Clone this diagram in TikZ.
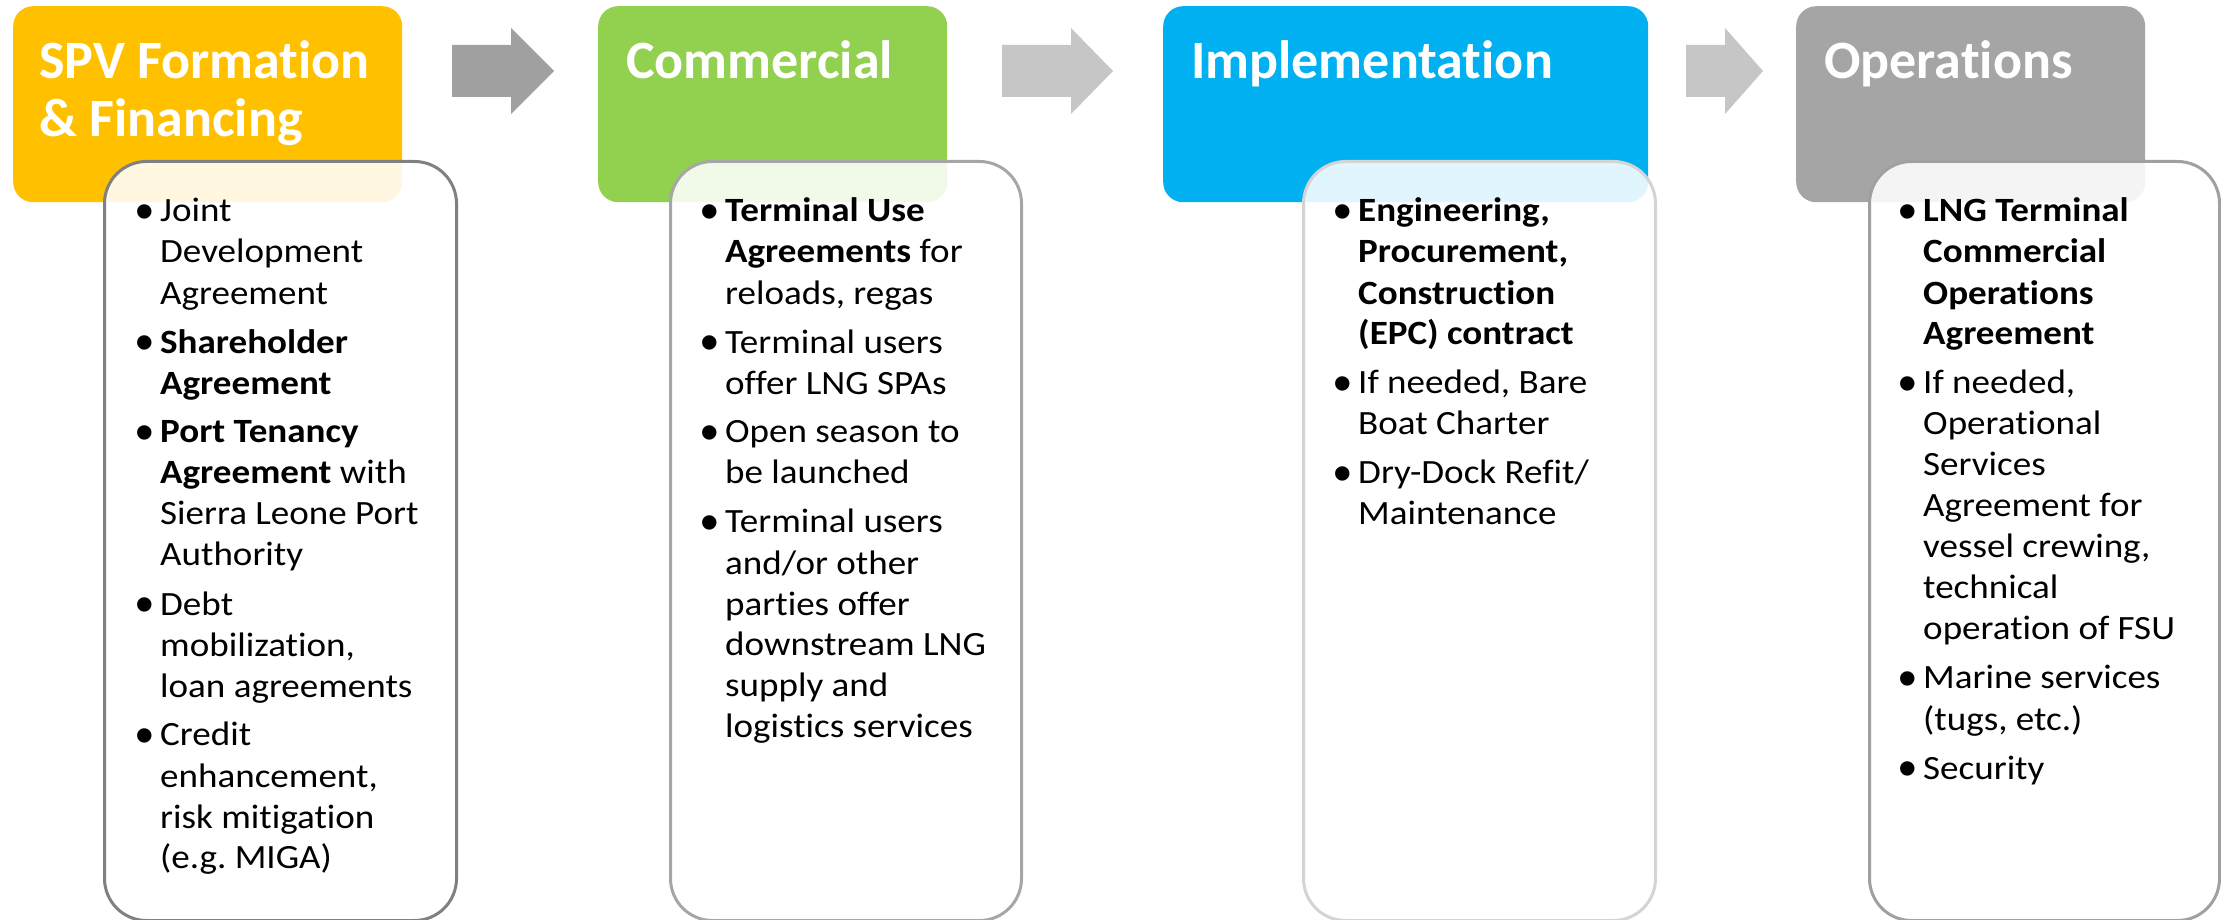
\documentclass[tikz,border=0pt]{standalone}
\usepackage{graphicx}
\usepackage{fontspec}
\setmainfont{Carlito}[Ligatures=NoCommon]
\newfontfamily\bodyfont{Carlito}[Ligatures=NoCommon, FakeStretch=1.09]
\newfontfamily\bulfont{Liberation Sans}
\frenchspacing
\definecolor{cyel}{HTML}{FFC000}
\definecolor{cgrn}{HTML}{92D050}
\definecolor{cblu}{HTML}{00B0F0}
\definecolor{cgry}{HTML}{A5A5A5}
\definecolor{arrdark}{HTML}{A0A0A0}
\definecolor{arrlight}{HTML}{C6C6C6}
\definecolor{bord1}{HTML}{808080}
\definecolor{bord2}{HTML}{A6A6A6}
\definecolor{bord3}{HTML}{D4D4D4}
\definecolor{bord4}{HTML}{A0A0A0}
\newcommand{\bitem}[1]{\par\hangindent=24.3pt\hangafter=1\noindent\makebox[24.3pt][l]{\raisebox{-7.6pt}{\fontsize{53}{53}\selectfont\bulfont •}}#1}
\newcommand{\collist}[1]{\parbox[t]{440pt}{\bodyfont\fontsize{34}{41}\selectfont\frenchspacing\raggedright\let\\\newline\setlength{\parindent}{0pt}\setlength{\parskip}{8pt}#1}}
\newcommand{\ttltext}[1]{\parbox[t]{440pt}{\fontsize{54}{58}\selectfont\bfseries\raggedright #1}}
\begin{document}
\begin{tikzpicture}[x=1pt,y=-1pt,
  hdr/.style={rectangle, rounded corners=20pt, inner sep=0pt, anchor=north west, minimum height=196pt},
  cbox/.style={rectangle, rounded corners=42pt, draw, line width=3pt, fill=white, fill opacity=0.88, inner sep=0pt, anchor=north west, minimum height=759pt},
  ttl/.style={text=white, anchor=base west, inner sep=0pt},
  body/.style={anchor=base west, inner sep=0pt, text=black}]
\useasboundingbox (0,0) rectangle (2221,920);
% headers
\node[hdr, fill=cyel, minimum width=389pt] (h1) at (13,6) {};
\node[hdr, fill=cgrn, minimum width=349pt] (h2) at (598,6) {};
\node[hdr, fill=cblu, minimum width=485pt] (h3) at (1163,6) {};
\node[hdr, fill=cgry, minimum width=349pt] (h4) at (1796,6) {};
% titles
\node[ttl] (t1) at (39,79) {\ttltext{SPV Formation\\\& Financing}};
\node[ttl] (t2) at (626,79) {\ttltext{Commercial}};
\node[ttl] (t3) at (1191,79) {\ttltext{Implementation}};
\node[ttl] (t4) at (1824,79) {\ttltext{Operations}};
% arrows
\fill[arrdark] (452,45) -- (511,45) -- (511,28) -- (554,71) -- (511,114) -- (511,97) -- (452,97) -- cycle;
\fill[arrlight] (1002,45) -- (1071,45) -- (1071,28) -- (1113,71) -- (1071,114) -- (1071,97) -- (1002,97) -- cycle;
\fill[arrlight] (1686,45) -- (1725,45) -- (1725,28) -- (1763,71) -- (1725,114) -- (1725,97) -- (1686,97) -- cycle;
% content boxes
\node[cbox, draw=bord1, minimum width=352pt] (c1) at (103,160) {};
\node[cbox, draw=bord2, minimum width=351pt] (c2) at (669,160) {};
\node[cbox, draw=bord3, minimum width=352pt] (c3) at (1302,160) {};
\node[cbox, draw=bord4, minimum width=350pt] (c4) at (1868,160) {};
% texts
\node[body] (b1) at (135.7,222) {\collist{%
\bitem{Joint\\Development\\Agreement}
\bitem{{\bfseries Shareholder\\Agreement}}
\bitem{{\bfseries Port Tenancy\\Agreement} with\\Sierra Leone Port\\Authority}
\bitem{Debt\\mobilization,\\loan agreements}
\bitem{Credit\\enhancement,\\risk mitigation\\(e.g. MIGA)}}};
\node[body] (b2) at (700.7,222) {\collist{%
\bitem{{\bfseries Terminal Use\\Agreements} for\\reloads, regas}
\bitem{Terminal users\\offer LNG SPAs}
\bitem{Open season to\\be launched}
\bitem{Terminal users\\and/or other\\parties offer\\downstream LNG\\supply and\\logistics services}}};
\node[body] (b3) at (1333.7,222) {\collist{%
\bitem{{\bfseries Engineering,\\Procurement,\\Construction\\(EPC) contract}}
\bitem{If needed, Bare\\Boat Charter}
\bitem{Dry-Dock Refit/\\Maintenance}}};
\node[body] (b4) at (1898.7,222) {\collist{%
\bitem{{\bfseries LNG Terminal\\Commercial\\Operations\\Agreement}}
\bitem{If needed,\\Operational\\Services\\Agreement for\\vessel crewing,\\technical\\operation of FSU}
\bitem{Marine services\\(tugs, etc.)}
\bitem{Security}}};
\end{tikzpicture}
\end{document}
